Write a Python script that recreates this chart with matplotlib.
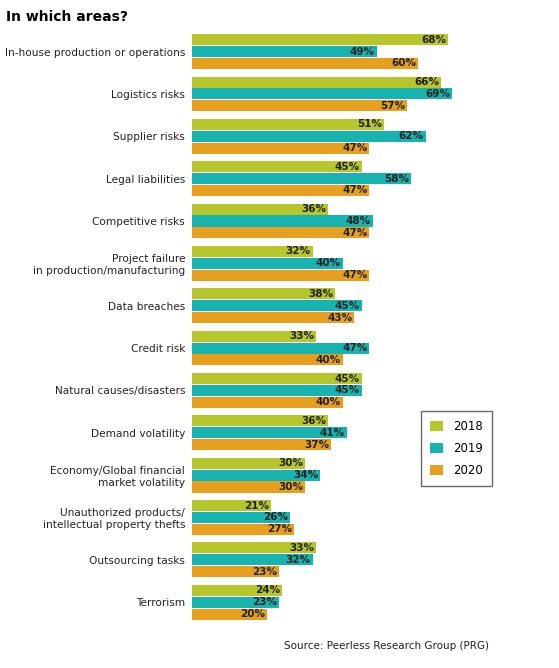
import numpy as np
import matplotlib.pyplot as plt

categories = ["In-house production or operations", "Logistics risks", "Supplier risks",
              "Legal liabilities", "Competitive risks",
              "Project failure\nin production/manufacturing", "Data breaches", "Credit risk",
              "Natural causes/disasters", "Demand volatility",
              "Economy/Global financial\nmarket volatility",
              "Unauthorized products/\nintellectual property thefts",
              "Outsourcing tasks", "Terrorism"]
v2018 = [68, 66, 51, 45, 36, 32, 38, 33, 45, 36, 30, 21, 33, 24]
v2019 = [49, 69, 62, 58, 48, 40, 45, 47, 45, 41, 34, 26, 32, 23]
v2020 = [60, 57, 47, 47, 47, 47, 43, 40, 40, 37, 30, 27, 23, 20]
years = ["2018", "2019", "2020"]
colors = ["#b7c72b", "#17b3b0", "#e6a01e"]

fig = plt.figure(figsize=(5.59, 6.68), dpi=100)
ax = fig.add_axes([192/559, 48/668, (520-192)/559, 593/668])
y = np.arange(len(categories))
h = 0.28
for k, (vals, lab, c) in enumerate(zip([v2018, v2019, v2020], years, colors)):
    pos = y + (k - 1) * h
    ax.barh(pos, vals, height=h - 0.02, color=c, label=lab)
    for p, v in zip(pos, vals):
        ax.text(v - 0.5, p, f"{v}%", ha="right", va="center", fontsize=7.5,
                fontweight="bold", color="#222222")
ax.set_xlim(0, 87)
ax.set_ylim(len(categories) - 0.58, -0.58)
ax.set_yticks(y)
ax.set_yticklabels(categories, fontsize=7.6, color="#222222")
ax.tick_params(axis="y", length=0, pad=5)
ax.set_xticks([])
for s in ax.spines.values():
    s.set_visible(False)
leg = ax.legend(loc="upper left", bbox_to_anchor=(0.68, 0.363), fontsize=8.5,
                frameon=True, fancybox=False, edgecolor="#444444",
                handlelength=1.1, handleheight=0.9, labelspacing=0.75, borderpad=0.8)
fig.text(0.01, 0.985, "In which areas?", fontsize=10, fontweight="bold", va="top")
fig.text(0.875, 0.028, "Source: Peerless Research Group (PRG)", fontsize=7.5, ha="right",
         color="#222222")
fig.savefig("out.png", dpi=100)
